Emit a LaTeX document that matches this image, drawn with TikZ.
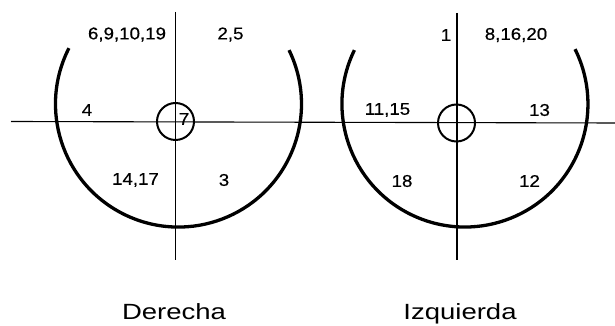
\documentclass[tikz,border=0pt]{standalone}
\usepackage{fontspec}
\setmainfont{Liberation Sans}
\newfontfamily\numfont[FakeStretch=1.1,FakeBold=0.5]{Liberation Sans}
\newfontfamily\capfont[FakeStretch=1.25]{Liberation Sans}
\begin{document}
\begin{tikzpicture}[x=1pt,y=1pt,
  thinline/.style={line width=1.1pt},
  hub/.style={circle,draw,line width=2pt,minimum size=37pt,inner sep=0pt},
  rim/.style={line width=3.3pt},
  num/.style={font=\numfont\fontsize{17}{17}\selectfont,inner sep=0pt},
  sidetitle/.style={font=\capfont\fontsize{22}{22}\selectfont,inner sep=0pt,anchor=base}]
\useasboundingbox (0,0) rectangle (615,326);
% axes
\coordinate (hl) at (11,204.5);
\coordinate (hr) at (615,203);
\draw[thinline] (hl) -- (hr);
\coordinate (lt) at (175.5,314);
\coordinate (lb) at (175.5,66);
\coordinate (rt) at (457,313);
\coordinate (rb) at (457,66);
\draw[thinline] (lt) -- (lb);
\draw[thinline] (rt) -- (rb);
% hubs
\node[hub] (hubL) at (175.5,204.5) {};
\node[hub] (hubR) at (456.5,203) {};
% rims
\draw[rim] (68.9,277.8) arc[start angle=153, end angle=386, radius=123];
\draw[rim] (354.4,275.9) arc[start angle=154, end angle=386.5, radius=123];
% labels left
\node[num] (a1) at (127,291.5) {6,9,10,19};
\node[num] (a2) at (230.5,291.5) {2,5};
\node[num] (a3) at (87,216) {4};
\node[num] (a4) at (184,207) {7};
\node[num] (a5) at (135.5,146) {14,17};
\node[num] (a6) at (224,146) {3};
% labels right
\node[num] (b1) at (446,291) {1};
\node[num] (b2) at (516,291) {8,16,20};
\node[num] (b3) at (387.5,216) {11,15};
\node[num] (b4) at (539.5,216) {13};
\node[num] (b5) at (402,145) {18};
\node[num] (b6) at (529.5,145) {12};
% captions
\node[sidetitle] (c1) at (174,6.5) {Derecha};
\node[sidetitle] (c2) at (460,6.5) {Izquierda};
\end{tikzpicture}
\end{document}
